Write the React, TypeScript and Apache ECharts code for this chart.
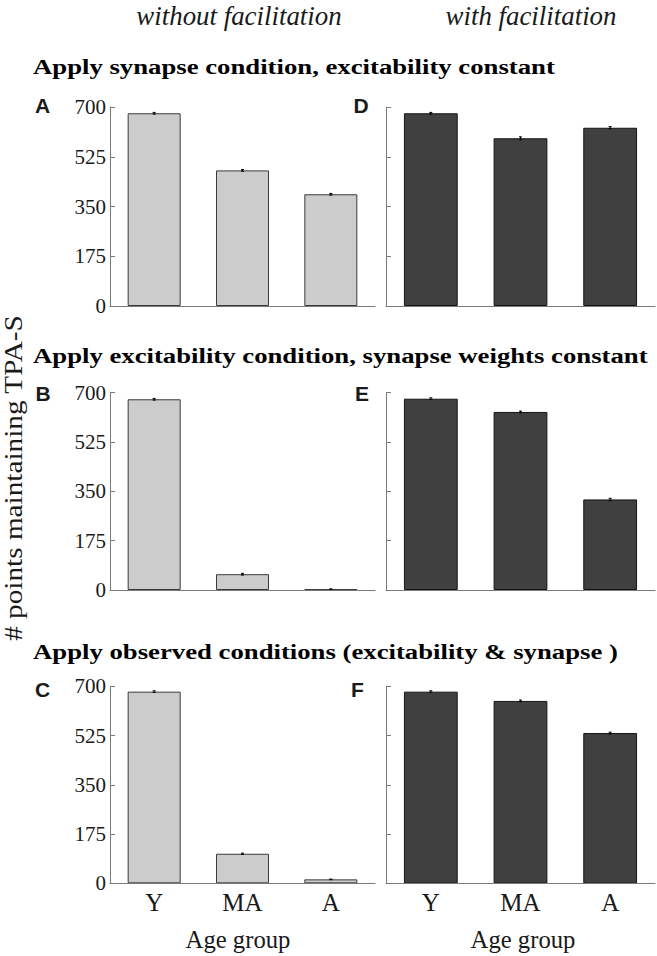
import React, { useEffect, useRef } from "react";
import * as echarts from "echarts";

const categories = ["Y", "MA", "A"];
const yTicks = [0, 175, 350, 525, 700];

// without facilitation
const panelA = [678, 477, 393];
const panelAErr = [3, 3, 3];
const panelB = [676, 56, 3];
const panelBErr = [3, 3, 1];
const panelC = [681, 105, 14];
const panelCErr = [3, 2, 1];
// with facilitation
const panelD = [678, 590, 627];
const panelDErr = [3, 5, 4];
const panelE = [678, 631, 321];
const panelEErr = [3, 3, 4];
const panelF = [681, 648, 534];
const panelFErr = [3, 3, 3];

const rowTitles = [
  "Apply synapse condition, excitability constant",
  "Apply excitability condition, synapse weights constant",
  "Apply observed conditions (excitability & synapse )",
];
const columnTitles = ["without facilitation", "with facilitation"];
const panelLetters = ["A", "B", "C", "D", "E", "F"];
const yAxisTitle = "# points maintaining TPA-S";
const xAxisTitle = "Age group";

const SERIF = "Liberation Serif";
const SANS = "Liberation Sans";

export default function App() {
  const ref = useRef<HTMLDivElement>(null);

  useEffect(() => {
    if (!ref.current) return;
    const chart = echarts.init(ref.current, null, { renderer: "svg" });

    const panels = [
      { vals: panelA, errs: panelAErr, col: 0, row: 0 },
      { vals: panelB, errs: panelBErr, col: 0, row: 1 },
      { vals: panelC, errs: panelCErr, col: 0, row: 2 },
      { vals: panelD, errs: panelDErr, col: 1, row: 0 },
      { vals: panelE, errs: panelEErr, col: 1, row: 1 },
      { vals: panelF, errs: panelFErr, col: 1, row: 2 },
    ];
    const colLeft = [110, 386];
    const colWidth = [265, 269];
    const rowTop = [107, 392.5, 686.3];
    const rowHeight = [199, 197.5, 197];

    const grids: any[] = [];
    const xAxes: any[] = [];
    const yAxes: any[] = [];
    const series: any[] = [];

    panels.forEach((p, i) => {
      grids.push({
        left: colLeft[p.col],
        top: rowTop[p.row],
        width: colWidth[p.col],
        height: rowHeight[p.row],
      });
      xAxes.push({
        type: "category",
        gridIndex: i,
        data: categories,
        z: 3,
        axisLine: { lineStyle: { color: "#7a7a7a", width: 1 } },
        axisTick: {
          inside: true,
          alignWithLabel: true,
          length: 3,
          lineStyle: { color: "#8a8a8a" },
        },
        axisLabel: {
          show: p.row === 2,
          fontFamily: SERIF,
          fontSize: 25,
          color: "#1a1a1a",
          margin: 7,
        },
      });
      yAxes.push({
        type: "value",
        gridIndex: i,
        min: 0,
        max: 700,
        interval: 175,
        splitLine: { show: false },
        axisLine: { show: true, lineStyle: { color: "#7a7a7a", width: 1 } },
        axisTick: {
          show: true,
          inside: true,
          length: 5,
          lineStyle: { color: "#7a7a7a" },
        },
        axisLabel: {
          show: p.col === 0,
          fontFamily: SERIF,
          fontSize: 21,
          color: "#1a1a1a",
          margin: 4,
          customValues: yTicks,
        },
      });
      const dark = p.col === 1;
      series.push({
        type: "bar",
        xAxisIndex: i,
        yAxisIndex: i,
        data: p.vals,
        barWidth: "60%",
        itemStyle: {
          color: dark ? "#404040" : "#cccccc",
          borderColor: dark ? "#151515" : "#3a3a3a",
          borderWidth: 1,
        },
        z: 2,
      });
      series.push({
        type: "custom",
        xAxisIndex: i,
        yAxisIndex: i,
        data: p.vals.map((v, k) => [k, v, p.errs[k]]),
        encode: { x: 0, y: 1 },
        z: 5,
        renderItem: (params: any, api: any) => {
          const x = api.value(0);
          const v = api.value(1);
          const e = api.value(2);
          const hi = api.coord([x, v + e]);
          const lo = api.coord([x, v - e]);
          const hw = 1.5;
          const st = { stroke: "#000", lineWidth: 1 };
          return {
            type: "group",
            children: [
              { type: "line", shape: { x1: hi[0], y1: hi[1], x2: lo[0], y2: lo[1] }, style: st },
              { type: "line", shape: { x1: hi[0] - hw, y1: hi[1], x2: hi[0] + hw, y2: hi[1] }, style: st },
              { type: "line", shape: { x1: lo[0] - hw, y1: lo[1], x2: lo[0] + hw, y2: lo[1] }, style: st },
            ],
          };
        },
      });
    });

    const graphic: any[] = [];
    const colCenters = [239, 531];
    columnTitles.forEach((t, c) => {
      graphic.push({
        type: "text",
        x: colCenters[c],
        y: 16,
        scaleX: 0.96,
        style: {
          text: t,
          fontFamily: SERIF,
          fontStyle: "italic",
          fontSize: 28,
          fill: "#1a1a1a",
          align: "center",
          verticalAlign: "middle",
        },
      });
    });
    const titleY = [66.6, 355.6, 651.3];
    rowTitles.forEach((t, r) => {
      graphic.push({
        type: "text",
        x: 33,
        y: titleY[r],
        scaleX: 1.215,
        style: {
          text: t,
          fontFamily: SERIF,
          fontWeight: "bold",
          fontSize: 22,
          fill: "#000",
          align: "left",
          verticalAlign: "middle",
        },
      });
    });
    const letterX = [42.5, 43, 42.5, 361, 362, 357.5];
    const letterY = [105.5, 393, 689, 105.5, 393, 689];
    panelLetters.forEach((l, i) => {
      graphic.push({
        type: "text",
        x: letterX[i],
        y: letterY[i],
        style: {
          text: l,
          fontFamily: SANS,
          fontWeight: "bold",
          fontSize: 21,
          fill: "#1a1a1a",
          align: "center",
          verticalAlign: "middle",
        },
      });
    });
    graphic.push({
      type: "text",
      x: 14,
      y: 478,
      rotation: Math.PI / 2,
      scaleX: 1.17,
      style: {
        text: yAxisTitle,
        fontFamily: SERIF,
        fontSize: 25,
        fill: "#1a1a1a",
        align: "center",
        verticalAlign: "middle",
      },
    });
    const ageX = [238, 523];
    ageX.forEach((x) => {
      graphic.push({
        type: "text",
        x,
        y: 939,
        scaleX: 0.95,
        style: {
          text: xAxisTitle,
          fontFamily: SERIF,
          fontSize: 26,
          fill: "#1a1a1a",
          align: "center",
          verticalAlign: "middle",
        },
      });
    });

    chart.setOption({
      animation: false,
      backgroundColor: "#ffffff",
      grid: grids,
      xAxis: xAxes,
      yAxis: yAxes,
      series,
      graphic,
    });

    return () => chart.dispose();
  }, []);

  return (
    <div
      ref={ref}
      style={{ position: "absolute", left: 0, top: 0, width: 657, height: 956 }}
    />
  );
}
